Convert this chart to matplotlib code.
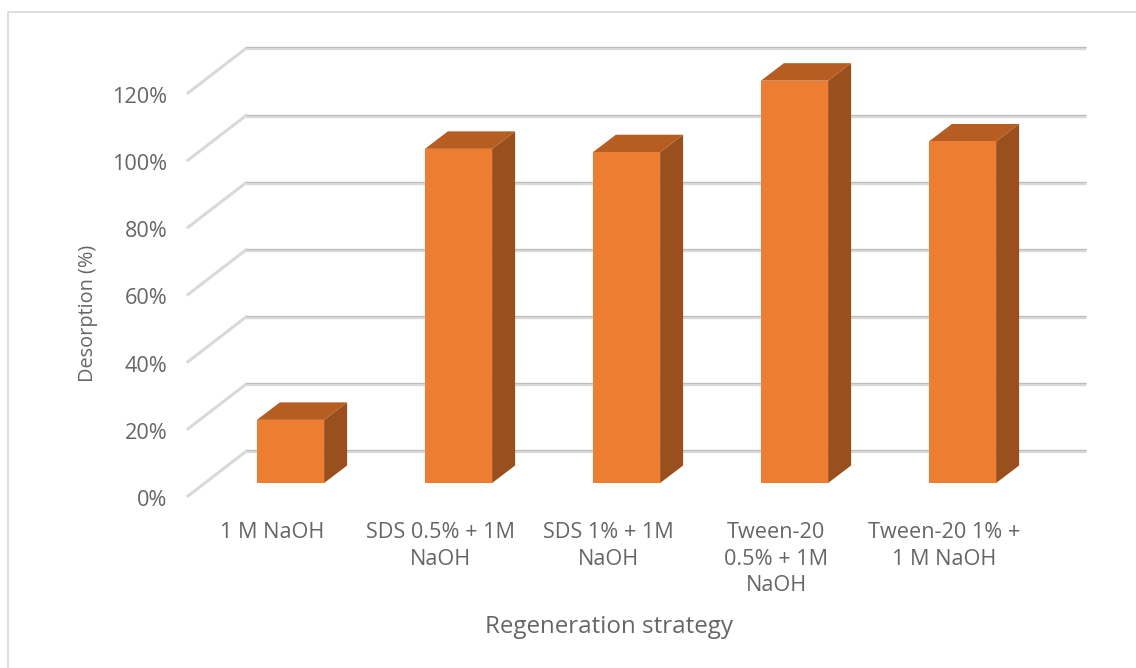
import matplotlib
matplotlib.use('Agg')
import matplotlib.pyplot as plt
from matplotlib.patches import Rectangle
from matplotlib.transforms import Affine2D

categories = ['1 M NaOH', 'SDS 0.5% + 1M\nNaOH', 'SDS 1% + 1M\nNaOH',
              'Tween-20\n0.5% + 1M\nNaOH', 'Tween-20 1% +\n1 M NaOH']
desorption = [18.8, 99.5, 98.5, 119.8, 101.7]
y_ticks = [0, 20, 40, 60, 80, 100, 120]
y_tick_labels = ['0%', '20%', '40%', '60%', '80%', '100%', '120%']

GRID = '#d9d9d9'
GRID_EDGE = '#bdbdbd'
TEXT = '#666666'
FRONT = '#ed7d31'
TOP = '#b65e22'
SIDE = '#9a501d'

plt.rcParams['font.family'] = ['Open Sans', 'DejaVu Sans']

W, H = 1136, 668
fig = plt.figure(figsize=(W / 100, H / 100), dpi=100)
ax = fig.add_axes([188 / W, (H - 496) / H, 840 / W, 403 / H])
ax.set_xlim(-0.5, 4.5)
ax.set_ylim(0, 120)
for s in ax.spines.values():
    s.set_visible(False)

# oblique depth: offsets in pixels from the front plane of the chart box
wall = ax.transData + Affine2D().translate(58, 44.6)
wall_edge = ax.transData + Affine2D().translate(58, 45.6)
bar_front = ax.transData + Affine2D().translate(18.5, 13)

# gridlines on the back wall and the side diagonals
for t in y_ticks:
    ax.plot([-0.5, 4.5], [t, t], color=GRID, lw=2.4, transform=wall, clip_on=False,
            zorder=1, solid_capstyle='butt')
    ax.plot([-0.5, 4.5], [t, t], color=GRID_EDGE, lw=0.8, transform=wall_edge, clip_on=False,
            zorder=1.1, solid_capstyle='butt')
    x0, y0 = ax.transData.transform((-0.5, t))
    ax.plot([x0, x0 + 58], [y0, y0 + 44.6], color=GRID, lw=2.2, transform=None, clip_on=False,
            zorder=1)

# 3D bars: side and top faces first, front face on top
for i, v in enumerate(desorption):
    x0, x1 = i - 0.2, i + 0.2
    fx1, fy0 = bar_front.transform((x1, 0))
    fx0, fy1 = bar_front.transform((x0, v))
    ax.fill([fx1, fx1, fx1 + 23, fx1 + 23], [fy0, fy1, fy1 + 17.5, fy0 + 17.5],
            color=SIDE, lw=0, zorder=2, transform=None, clip_on=False)
    ax.fill([fx0, fx1, fx1 + 23, fx0 + 23], [fy1, fy1, fy1 + 17.5, fy1 + 17.5],
            color=TOP, lw=0, zorder=2, transform=None, clip_on=False)
    ax.bar(i, v, 0.4, color=FRONT, lw=0, zorder=3, transform=bar_front, clip_on=False)

ax.set_xticks(range(len(categories)))
ax.set_xticklabels(categories, fontsize=15.6, color=TEXT, linespacing=1.32)
ax.set_yticks(y_ticks)
ax.set_yticklabels(y_tick_labels, fontsize=15.6, color=TEXT)
ax.tick_params(axis='x', length=0, pad=19)
ax.tick_params(axis='y', length=0, pad=15)
for lab in ax.get_yticklabels():
    lab.set_transform(lab.get_transform() + Affine2D().translate(0, -2))

ax.set_ylabel('Desorption (%)', fontsize=14.3, color=TEXT, va='center')
ax.yaxis.set_label_coords(-0.119, 0.452)
ax.set_xlabel('Regeneration strategy', fontsize=17.4, color=TEXT, va='center')
ax.xaxis.set_label_coords(0.501, -0.325)

# chart area border, cut off by the right and bottom image edges
fig.add_artist(Rectangle((7.5 / W, -0.1), 1.2, (H - 12.5) / H + 0.1, fill=False,
                         edgecolor=GRID, lw=1.2, transform=fig.transFigure))

fig.savefig('out.png', dpi=100)
